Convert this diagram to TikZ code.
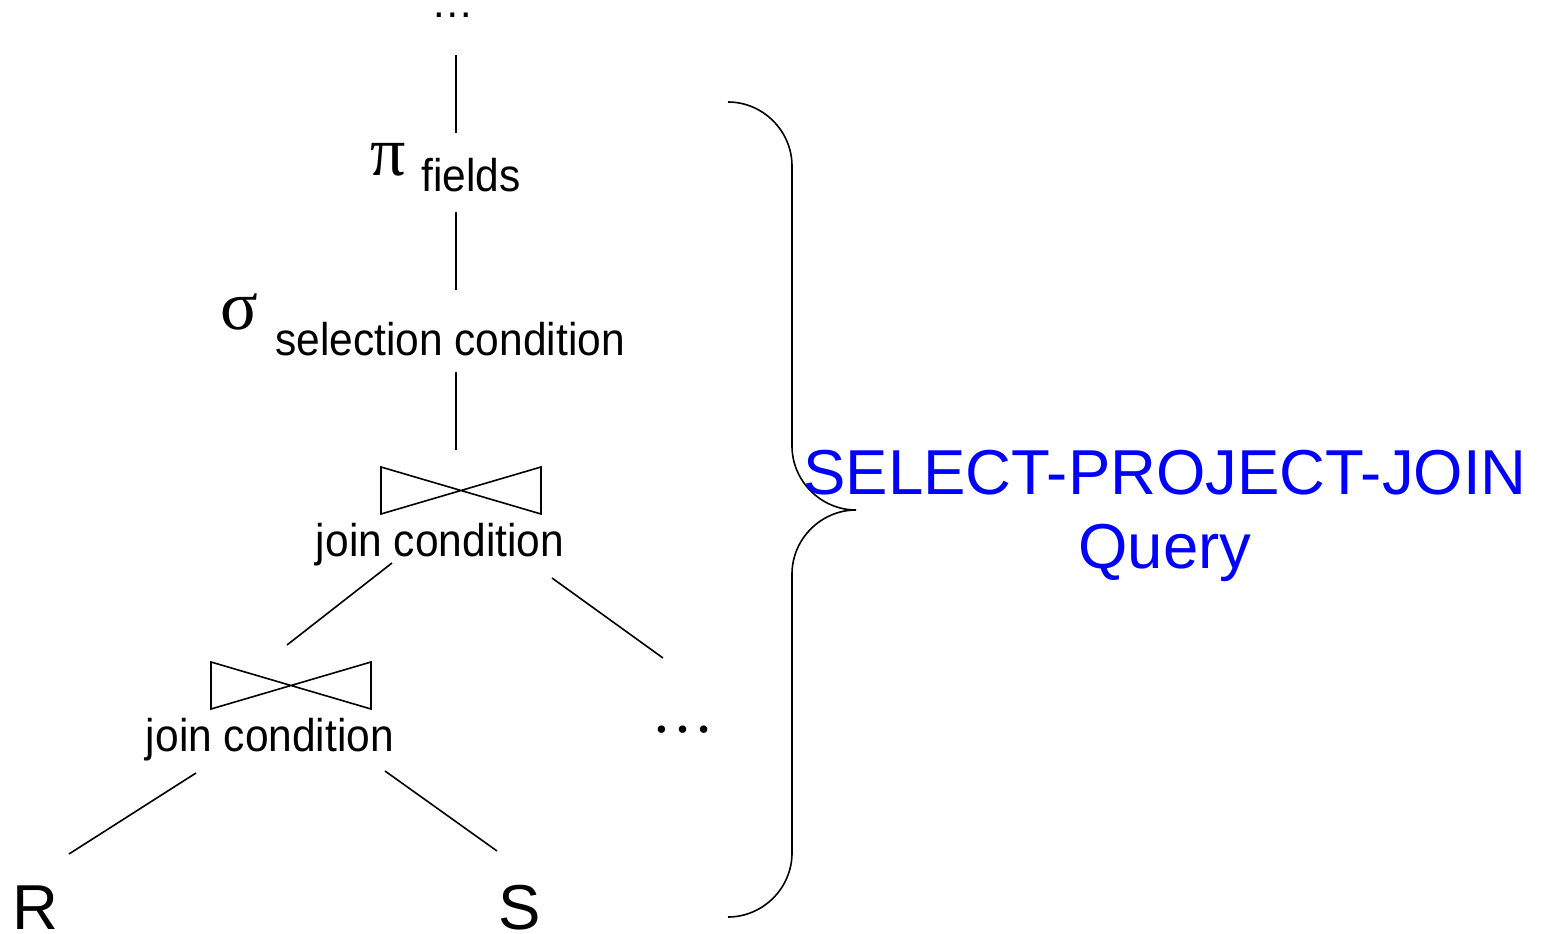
\documentclass[tikz,border=0pt]{standalone}
\usepackage{fontspec}
\usepackage{graphicx}
\setmainfont{Liberation Sans}
\newfontfamily\greekfont{Liberation Serif}
\definecolor{querblue}{RGB}{0,0,255}
\tikzset{
  edge/.style={line width=1.6pt},
  opnode/.style={inner sep=0pt, anchor=base},
  small/.style={font=\fontsize{42.5}{50}\selectfont},
  big/.style={font=\fontsize{63.5}{70}\selectfont},
  greek/.style={font=\greekfont\fontsize{70}{76}\selectfont},
  bowtie/.style={line width=1.6pt}
}
\newcommand{\tall}[1]{\scalebox{1}[1.08]{#1}}
\begin{document}
\begin{tikzpicture}[x=1pt,y=-1pt]
\useasboundingbox (0,0) rectangle (1543,934);

% operator tree labels
\node[opnode, small] (top) at (453,18) {…};
\node[opnode, greek] (pi) at (388,175) {π};
\node[opnode, small, anchor=base west] (fields) at (421,191) {\tall{fields}};
\node[opnode, greek] (sigma) at (239,329) {σ};
\node[opnode, small, anchor=base west] (sel) at (275,355) {\tall{selection condition}};
\node[opnode, small] (jc1) at (440,556) {\tall{join condition}};
\node[opnode, small] (jc2) at (270,751) {\tall{join condition}};
\node[opnode, big] (R) at (35,929) {R};
\node[opnode, big] (S) at (520,929) {S};
\node[opnode, font=\greekfont\fontsize{63}{70}\selectfont] (more) at (683,732) {…};

% join symbols
\coordinate (j1) at (461,490.5);
\coordinate (j2) at (291,685.5);
\draw[bowtie] (j1) +(-80,-23.5) -- +(80,23.5) -- +(80,-23.5) -- +(-80,23.5) -- cycle;
\draw[bowtie] (j2) +(-80,-23.5) -- +(80,23.5) -- +(80,-23.5) -- +(-80,23.5) -- cycle;

% edge end points
\coordinate (e1a) at (456,55);   \coordinate (e1b) at (456,133);
\coordinate (e2a) at (456,212);  \coordinate (e2b) at (456,290);
\coordinate (e3a) at (456,372);  \coordinate (e3b) at (456,450);
\coordinate (e4a) at (392,563);  \coordinate (e4b) at (287,645);
\coordinate (e5a) at (552,578);  \coordinate (e5b) at (663,658);
\coordinate (e6a) at (196,773);  \coordinate (e6b) at (69,854);
\coordinate (e7a) at (385,771);  \coordinate (e7b) at (497,851);

\draw[edge] (e1a) -- (e1b);
\draw[edge] (e2a) -- (e2b);
\draw[edge] (e3a) -- (e3b);
\draw[edge] (e4a) -- (e4b);
\draw[edge] (e5a) -- (e5b);
\draw[edge] (e6a) -- (e6b);
\draw[edge] (e7a) -- (e7b);

% curly brace
\coordinate (bt) at (728,102);
\coordinate (bm) at (856,510);
\coordinate (bb) at (728,917);
\draw[edge] (bt) .. controls (763,102) and (792,131) .. (792,166) -- (792,446)
  .. controls (792,481) and (821,510) .. (bm)
  .. controls (821,510) and (792,539) .. (792,574) -- (792,853)
  .. controls (792,888) and (763,917) .. (bb);

% caption
\node[opnode, big, text=querblue] (spj) at (1165,494) {SELECT-PROJECT-JOIN};
\node[opnode, big, text=querblue] (query) at (1165,568) {Query};
\end{tikzpicture}
\end{document}
